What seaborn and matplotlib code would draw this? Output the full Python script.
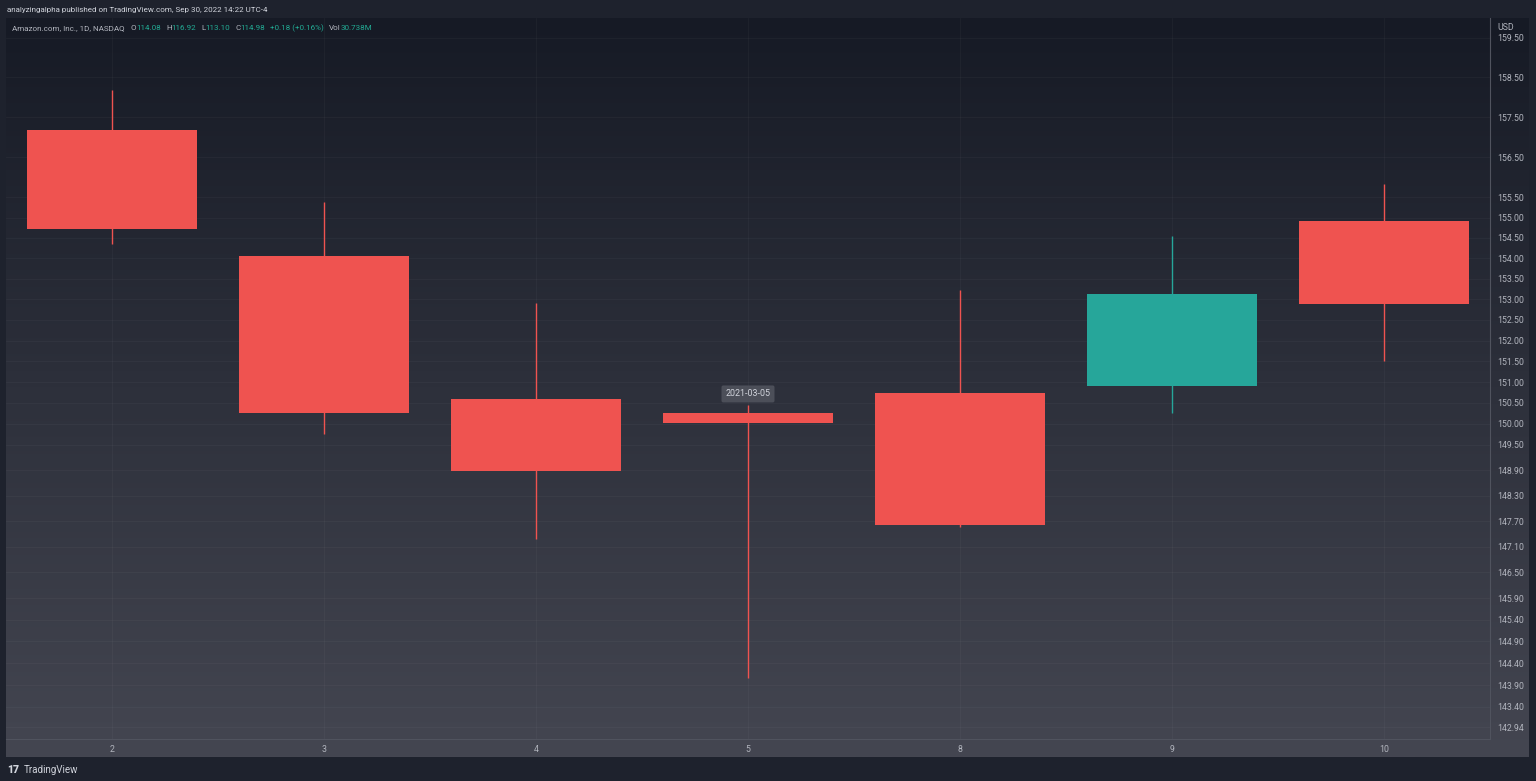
import numpy as np
import pandas as pd
import matplotlib.pyplot as plt
import seaborn as sns
from matplotlib.colors import LinearSegmentedColormap

# AMZN daily candles, March 2021 (split adjusted)
days = ['2', '3', '4', '5', '8', '9', '10']
dates = ['2021-03-02', '2021-03-03', '2021-03-04', '2021-03-05',
         '2021-03-08', '2021-03-09', '2021-03-10']
opens = [157.17, 154.06, 150.60, 150.25, 150.75, 150.90, 154.92]
highs = [158.18, 155.39, 152.90, 150.45, 153.23, 154.55, 155.82]
lows = [154.36, 149.75, 147.27, 144.05, 147.57, 150.26, 151.50]
closes = [154.73, 150.25, 148.88, 150.02, 147.60, 153.14, 152.88]

price_ticks = [159.50, 158.50, 157.50, 156.50, 155.50, 155.00, 154.50, 154.00,
               153.50, 153.00, 152.50, 152.00, 151.50, 151.00, 150.50, 150.00,
               149.50, 148.90, 148.30, 147.70, 147.10, 146.50, 145.90, 145.40,
               144.90, 144.40, 143.90, 143.40, 142.94]

legend_parts = [("Amazon.com, Inc., 1D, NASDAQ", 'gray', 6), ("O", 'gray', 0), ("114.08", 'teal', 5),
                ("H", 'gray', 0), ("116.92", 'teal', 5), ("L", 'gray', 0), ("113.10", 'teal', 5),
                ("C", 'gray', 0), ("114.98", 'teal', 5), ("+0.18 (+0.16%)", 'teal', 5),
                ("Vol", 'gray', 0), ("30.738M", 'teal', 0)]

df = pd.DataFrame({'day': days, 'date': dates, 'open': opens, 'high': highs,
                   'low': lows, 'close': closes})
df['x'] = np.arange(len(df))

sns.set_theme(style='dark')
plt.rcParams['font.family'] = ['Roboto', 'DejaVu Sans']

RED = '#ef5350'
GREEN = '#26a69a'
TEXT = '#b2b5be'
cols = {'gray': TEXT, 'teal': '#22ab94'}

W, H = 1536, 781
fig = plt.figure(figsize=(W / 100, H / 100), dpi=100, facecolor='#1e222d')


def rect(x0, y0, x1, y1):
    return [x0 / W, 1 - y1 / H, (x1 - x0) / W, (y1 - y0) / H]


# gradient background of the chart panel
bg = fig.add_axes(rect(6, 18, 1529, 757))
cmap = LinearSegmentedColormap.from_list('bg', ['#161a25', '#444651'])
bg.imshow(np.linspace(0, 1, 256).reshape(-1, 1), aspect='auto', cmap=cmap,
          extent=(0, 1, 0, 1), origin='upper')
bg.set_axis_off()

ax = fig.add_axes(rect(6, 18, 1490, 739))
ax.set_facecolor('none')
ax.set_yscale('log')

up = df['close'] >= df['open']
colors = np.where(up, GREEN, RED)
ax.vlines(df['x'], df['low'], df['high'], colors=colors, linewidth=1, zorder=2)
ax.bar(df['x'], (df['close'] - df['open']).abs(), bottom=df[['open', 'close']].min(axis=1),
       width=0.8, color=colors, linewidth=0, zorder=3)

ax.set_xlim(-0.5, 6.5)
ax.set_ylim(142.67, 160.0)
ax.set_yticks(price_ticks, labels=[f'{v:.2f}' for v in price_ticks])
ax.minorticks_off()
ax.set_xticks(df['x'], labels=df['day'])
ax.yaxis.tick_right()
ax.tick_params(axis='y', length=0, pad=5, labelsize=6.3, labelcolor=TEXT)
ax.tick_params(axis='x', length=0, pad=4, labelsize=6.3, labelcolor=TEXT)
ax.grid(True, color='white', alpha=0.03, linewidth=0.8)
for s in ['top', 'left']:
    ax.spines[s].set_visible(False)
for s in ['right', 'bottom']:
    ax.spines[s].set_color('#50535e')
    ax.spines[s].set_linewidth(0.8)

# date tooltip above the hovered candle
i = 3
ax.annotate(df['date'][i], xy=(df['x'][i], df['high'][i]), xytext=(0, 8),
            textcoords='offset points', ha='center', va='center', fontsize=6.4,
            color='#d1d4dc', zorder=5,
            bbox=dict(boxstyle='round,pad=0.45,rounding_size=0.2', fc='#4c4f59', ec='none'))

# header and footer texts
fig.text(7 / W, 1 - 10 / H, 'analyzingalpha published on TradingView.com, Sep 30, 2022 14:22 UTC-4',
         color='#d1d4dc', fontsize=5.8, va='center')
fig.text(1497 / W, 1 - 27 / H, 'USD', color=TEXT, fontsize=6.3, va='center')
fig.text(7 / W, 1 - 770 / H, '17', color='#d1d4dc', fontsize=7.5, fontweight='black', va='center')
fig.text(24 / W, 1 - 770 / H, 'TradingView', color='#d1d4dc', fontsize=7, va='center')

renderer = fig.canvas.get_renderer()
xpos = 12
for s, c, gap in legend_parts:
    t = fig.text(xpos / W, 1 - 28 / H, s, color=cols[c], fontsize=5.8, va='center')
    xpos += t.get_window_extent(renderer).width + gap

fig.savefig('out.png', dpi=100, facecolor=fig.get_facecolor())
